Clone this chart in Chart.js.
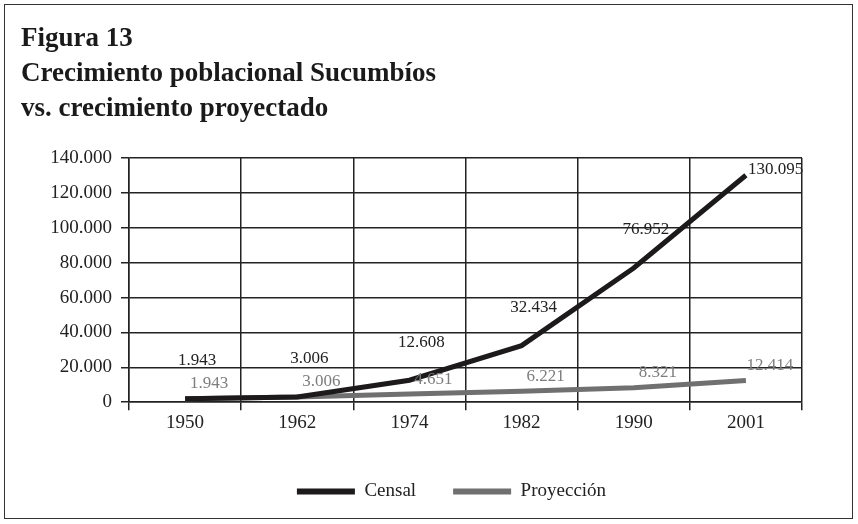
<!DOCTYPE html>
<html>
<head>
<meta charset="utf-8">
<script src="https://cdn.jsdelivr.net/npm/chart.js@4.4.0/dist/chart.umd.min.js"></script>
<style>
    html, body { margin: 0; background: #fff; }
    #box { position: absolute; left: 4px; top: 4px; width: 847px; height: 513px; border: 1.5px solid #333; }
    #title {
        position: absolute; left: 16px; top: 15px;
        font: bold 27px "Liberation Serif", serif; line-height: 35px; color: #1a1a1a;
    }
    canvas { display: block; }
</style>
</head>
<body>
<div id="box">
    <canvas id="popChart"></canvas>
    <div id="title">Figura 13<br>Crecimiento poblacional Sucumbíos<br>vs. crecimiento proyectado</div>
</div>
<script>
const years = ["1950", "1962", "1974", "1982", "1990", "2001"];
const censal = [1943, 3006, 12608, 32434, 76952, 130095];
const proyeccion = [1943, 3006, 4651, 6221, 8321, 12414];

const serif = "'Liberation Serif', serif";

function fmt(v) {
    return String(v).replace(/\B(?=(\d{3})+(?!\d))/g, ".");
}

// etiquetas de valores junto a cada punto; si no caben arriba, van a la derecha
const valueLabels = {
    id: "valueLabels",
    afterDatasetsDraw(chart) {
        const ctx = chart.ctx;
        const top = chart.chartArea.top + 12;
        ctx.save();
        ctx.font = "17px " + serif;
        ctx.textBaseline = "middle";
        chart.data.datasets.forEach((ds, i) => {
            const meta = chart.getDatasetMeta(i);
            ctx.fillStyle = ds.labelColor;
            meta.data.forEach((pt, j) => {
                let y = pt.y + ds.labelDy;
                if (y < top) {
                    ctx.textAlign = "left";
                    ctx.fillText(fmt(ds.data[j]), pt.x + 2, top);
                } else {
                    ctx.textAlign = "center";
                    ctx.fillText(fmt(ds.data[j]), pt.x + ds.labelDx, y);
                }
            });
        });
        ctx.restore();
    }
};

// centrar la leyenda bajo el bloque completo, no sólo bajo el área útil
const legendShift = {
    id: "legendShift",
    afterLayout(chart) {
        chart.legend.left += 40;
        chart.legend.right += 40;
    }
};

const ctx = document.getElementById("popChart").getContext("2d");

const popChart = new Chart(ctx, {
    type: "line",
    data: {
        labels: years,
        datasets: [
            {
                label: "Censal",
                data: censal,
                borderColor: "#1c1a1a",
                backgroundColor: "#1c1a1a",
                borderWidth: 5,
                pointRadius: 0,
                tension: 0,
                labelColor: "#222",
                labelDx: 12,
                labelDy: -38
            },
            {
                label: "Proyección",
                data: proyeccion,
                borderColor: "#707070",
                backgroundColor: "#707070",
                borderWidth: 5,
                pointRadius: 0,
                tension: 0,
                labelColor: "#7d7d7d",
                labelDx: 24,
                labelDy: -15
            }
        ]
    },
    options: {
        responsive: true,
        maintainAspectRatio: false,
        animation: false,
        layout: { padding: { left: 16, right: 50, top: 153, bottom: 7 } },
        plugins: {
            title: { display: false },
            tooltip: { enabled: false },
            legend: {
                position: "bottom",
                maxHeight: 70,
                labels: {
                    boxWidth: 58,
                    boxHeight: 6,
                    padding: 37,
                    color: "#222",
                    font: { family: serif, size: 19 },
                    generateLabels(chart) {
                        return Chart.defaults.plugins.legend.labels.generateLabels(chart)
                            .map(item => ({ ...item, lineWidth: 0 }));
                    }
                }
            }
        },
        scales: {
            x: {
                offset: true,
                grid: { offset: true, color: "#222", lineWidth: 1.5, tickLength: 8 },
                border: { color: "#222", width: 1.5 },
                ticks: { color: "#222", padding: 1, font: { family: serif, size: 19 } },
                afterFit(scale) { scale.height = scale.height + 10; }
            },
            y: {
                min: 0,
                max: 140000,
                grid: { color: "#222", lineWidth: 1.5, tickLength: 8 },
                border: { color: "#222", width: 1.5 },
                ticks: {
                    stepSize: 20000,
                    color: "#222",
                    padding: 9,
                    font: { family: serif, size: 19 },
                    callback: v => fmt(v)
                },
                afterFit(scale) { scale.width = 108; }
            }
        }
    },
    plugins: [valueLabels, legendShift]
});
</script>
</body>
</html>
